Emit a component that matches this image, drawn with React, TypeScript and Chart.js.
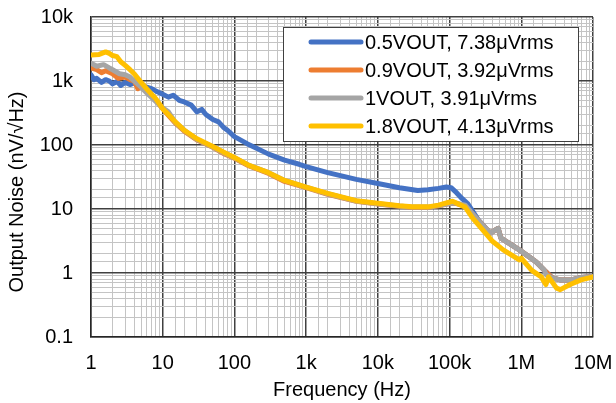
import { useEffect, useRef } from 'react';
import { Chart, registerables } from 'chart.js';
Chart.register(...registerables);

const seriesLabels = ['0.5VOUT, 7.38μVrms', '0.9VOUT, 3.92μVrms', '1VOUT, 3.91μVrms', '1.8VOUT, 4.13μVrms'];
const seriesColors = ['#4472C4', '#ED7D31', '#A5A5A5', '#FFC000'];

const xTickLabels = ['1', '10', '100', '1k', '10k', '100k', '1M', '10M'];
const yTickLabels = ['0.1', '1', '10', '100', '1k', '10k'];
const xTitle = 'Frequency (Hz)';
const yTitle = 'Output Noise (nV/√Hz)';

const blueFreq = [1, 1.1, 1.2, 1.4, 1.6, 1.8, 2, 2.3, 2.6, 3, 3.5, 4, 5, 6, 7, 8, 10, 12, 14, 17, 20, 25, 30, 35, 40, 50, 60, 70, 80, 100, 130, 150, 200, 300, 500, 800, 1000, 2000, 5000, 10000, 20000, 36000, 50000, 70000, 90000, 105000, 125000, 150000, 180000, 250000, 370000, 475000, 520000, 940000, 1600000, 2100000, 2700000, 3500000, 5000000, 6800000, 10000000];
const blueVal = [1250, 1050, 1100, 950, 1050, 1000, 900, 980, 850, 950, 880, 930, 820, 800, 760, 700, 620, 560, 600, 500, 470, 420, 330, 360, 300, 250, 230, 190, 170, 135, 115, 105, 90, 72, 58, 50, 46, 37, 29, 25, 21.5, 19.5, 20, 21, 22, 21.5, 18, 14.5, 12, 6.8, 4.2, 5, 3.5, 2.3, 1.5, 1.1, 0.84, 0.78, 0.78, 0.85, 0.88];

const orangeFreq = [1, 1.2, 1.4, 1.6, 2, 2.4, 3, 3.5, 4, 4.5, 5, 6, 8, 10, 12, 15, 20, 30, 50, 70, 100, 160, 300, 500, 1000, 2000, 5000, 10000, 20000, 30000, 50000, 70000, 100000, 120000, 165000, 250000, 370000, 475000, 520000, 940000, 1600000, 2100000, 2700000, 3500000, 5000000, 6800000, 10000000];
const orangeVal = [1600, 1500, 1350, 1450, 1300, 1100, 1150, 1050, 1000, 760, 880, 720, 500, 370, 290, 220, 165, 120, 92, 74, 62, 47, 36, 27, 21.5, 17, 13.2, 12, 11, 10.6, 10.6, 11.2, 12.2, 12.3, 11.2, 6.7, 4.2, 5, 3.5, 2.3, 1.5, 1.1, 0.84, 0.78, 0.78, 0.85, 0.88];

const grayFreq = [1, 1.2, 1.5, 1.8, 2, 2.5, 3, 3.5, 4, 5, 6, 8, 10, 12, 15, 20, 30, 50, 70, 100, 160, 300, 500, 1000, 2000, 5000, 10000, 20000, 30000, 50000, 70000, 100000, 120000, 165000, 250000, 370000, 475000, 520000, 940000, 1600000, 2100000, 2200000, 2700000, 3500000, 5000000, 6800000, 10000000];
const grayVal = [1900, 1700, 1800, 1600, 1500, 1300, 1250, 1150, 1000, 800, 650, 480, 380, 330, 225, 170, 122, 93, 76, 63, 48, 37, 28, 22, 17.3, 13.3, 12.1, 11.1, 10.7, 10.7, 11.3, 12.2, 12.4, 11.5, 6.7, 4.2, 5, 3.5, 2.3, 1.5, 1.1, 0.95, 0.84, 0.78, 0.78, 0.85, 0.88];

const yellowFreq = [1, 1.3, 1.6, 1.8, 2, 2.3, 2.6, 3, 3.5, 4, 4.5, 5, 6, 7, 8, 10, 12, 15, 20, 30, 50, 70, 100, 160, 300, 500, 1000, 2000, 5000, 10000, 20000, 30000, 50000, 70000, 110000, 165000, 210000, 300000, 400000, 560000, 940000, 1000000, 1400000, 1900000, 2200000, 2400000, 3100000, 3500000, 4800000, 6800000, 10000000];
const yellowVal = [2550, 2600, 2850, 2700, 2500, 2400, 2000, 1750, 1500, 1300, 1100, 950, 750, 620, 530, 370, 300, 230, 170, 125, 95, 78, 64, 48, 37, 28, 22, 17.5, 13.5, 12.3, 11.2, 10.8, 10.8, 11.5, 13.2, 10.7, 7.2, 4.5, 3.1, 2.3, 1.6, 1.7, 1.1, 0.87, 0.66, 0.87, 0.58, 0.55, 0.66, 0.78, 0.87];

const FONT = '"Liberation Sans", Arial, Helvetica, sans-serif';

const isDecade = (v: number) => {
  const l = Math.log10(v);
  return Math.abs(l - Math.round(l)) < 1e-6;
};

const overlayPlugin = {
  id: 'overlay',
  afterDatasetsDraw(chart: any) {
    const { ctx, chartArea } = chart;
    const left = chartArea.left + 192;
    const top = chartArea.top + 10;
    const w = 295;
    const h = 114;
    ctx.save();
    ctx.fillStyle = '#ffffff';
    ctx.fillRect(left, top, w, h);
    ctx.strokeStyle = '#404040';
    ctx.lineWidth = 1;
    ctx.strokeRect(left + 0.5, top + 0.5, w, h);
    ctx.font = `20px ${FONT}`;
    ctx.textBaseline = 'middle';
    ctx.textAlign = 'left';
    seriesLabels.forEach((label, i) => {
      const y = top + 15 + i * 28;
      ctx.strokeStyle = seriesColors[i];
      ctx.lineWidth = 5;
      ctx.lineCap = 'round';
      ctx.beginPath();
      ctx.moveTo(left + 28, y);
      ctx.lineTo(left + 78, y);
      ctx.stroke();
      ctx.fillStyle = '#000000';
      ctx.fillText(label, left + 82, y + 1);
    });
    // y-axis title
    ctx.translate(17, (chartArea.top + chartArea.bottom) / 2 + 15);
    ctx.rotate(-Math.PI / 2);
    ctx.textAlign = 'center';
    ctx.textBaseline = 'middle';
    ctx.fillStyle = '#000000';
    ctx.fillText(yTitle, 0, 0);
    ctx.restore();
  },
};

export default function App() {
  const ref = useRef<HTMLCanvasElement | null>(null);
  useEffect(() => {
    if (!ref.current) return;
    const series = [
      { f: blueFreq, v: blueVal },
      { f: orangeFreq, v: orangeVal },
      { f: grayFreq, v: grayVal },
      { f: yellowFreq, v: yellowVal },
    ];
    const datasets = series.map((s, i) => ({
      label: seriesLabels[i],
      data: s.f.map((f, j) => ({ x: f, y: s.v[j] })),
      borderColor: seriesColors[i],
      backgroundColor: seriesColors[i],
      borderWidth: 5,
      pointRadius: 0,
      tension: 0,
      borderJoinStyle: 'round' as const,
      borderCapStyle: 'round' as const,
      order: 4 - i,
    }));
    const gridColor = (c: any) => (c.tick && isDecade(c.tick.value) ? '#404040' : '#c4c4c4');
    const gridWidth = (c: any) => (c.tick && isDecade(c.tick.value) ? 1.5 : 1);
    const xLabel = (v: number) => {
      if (!isDecade(v)) return '';
      return xTickLabels[Math.round(Math.log10(v))] ?? '';
    };
    const yLabel = (v: number) => {
      if (!isDecade(v)) return '';
      return yTickLabels[Math.round(Math.log10(v)) + 1] ?? '';
    };
    const chart = new Chart(ref.current, {
      type: 'line',
      data: { datasets },
      plugins: [overlayPlugin],
      options: {
        animation: false,
        responsive: false,
        maintainAspectRatio: false,
        layout: { padding: { left: 0, top: 17, right: 23, bottom: 0 } },
        plugins: { legend: { display: false }, tooltip: { enabled: false } },
        scales: {
          x: {
            type: 'logarithmic',
            min: 1,
            max: 1e7,
            afterFit: (s: any) => { s.height = 66; s.paddingLeft = 0; s.paddingRight = 0; },
            ticks: {
              autoSkip: false,
              maxRotation: 0,
              minRotation: 0,
              padding: 14,
              color: '#000',
              font: { family: FONT, size: 20 },
              callback: (v: any) => xLabel(Number(v)),
            },
            grid: { color: gridColor, lineWidth: gridWidth, drawTicks: false },
            border: { display: true, color: '#262626', width: 1.5 },
            title: { display: true, text: xTitle, color: '#000', font: { family: FONT, size: 20 }, padding: { top: 0, bottom: 1 } },
          },
          y: {
            type: 'logarithmic',
            min: 0.1,
            max: 1e4,
            afterFit: (s: any) => { s.width = 91; s.paddingTop = 0; s.paddingBottom = 0; },
            ticks: {
              autoSkip: false,
              padding: 18,
              color: '#000',
              font: { family: FONT, size: 20 },
              callback: (v: any) => yLabel(Number(v)),
            },
            grid: { color: gridColor, lineWidth: gridWidth, drawTicks: false },
            border: { display: true, color: '#262626', width: 1.5 },
          },
        },
      },
    });
    return () => chart.destroy();
  }, []);
  return (
    <div style={{ position: 'absolute', left: 0, top: 0, width: 616, height: 403, background: '#fff' }}>
      <canvas ref={ref} width={616} height={403} style={{ display: 'block', width: 616, height: 403 }} />
    </div>
  );
}
